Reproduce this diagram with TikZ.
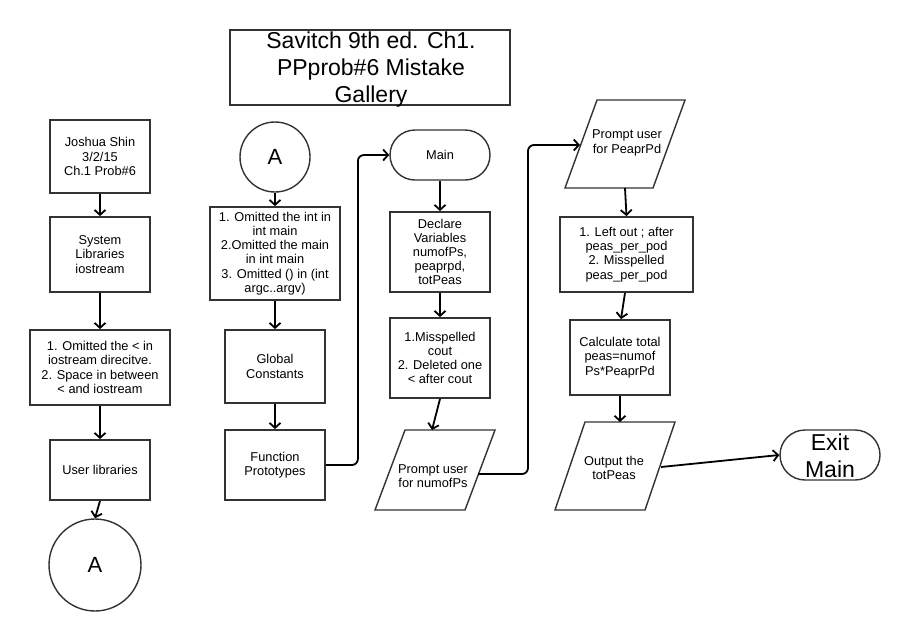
\documentclass[tikz,border=0pt]{standalone}
\usepackage{fontspec}
\setmainfont{Liberation Sans}
\usetikzlibrary{arrows.meta}
\begin{document}
\begin{tikzpicture}[x=1pt,y=-1pt,
  box/.style={draw=black!80, line width=1.8pt, align=center, inner sep=0pt,
    font=\fontsize{12.8}{14.2}\selectfont},
  txt/.style={align=center, inner sep=0pt, font=\fontsize{12.8}{14.2}\selectfont},
  bigtxt/.style={align=center, inner sep=0pt, font=\fontsize{23}{27}\selectfont},
  conn/.style={draw=black!80, line width=1.6pt},
  term/.style={draw=black!80, line width=1.4pt, rounded corners=25pt, inner sep=0pt,
    minimum width=100pt, minimum height=50pt},
  para/.style={draw=black!80, line width=1.4pt, line join=miter},
  arr/.style={draw=black, line width=1.8pt, -{Straight Barb[length=5pt,width=11pt]}},
  plain/.style={draw=black, line width=1.8pt}
]
\useasboundingbox (0,0) rectangle (906,630);
\fill[white] (0,0) rectangle (906,630);

% title
\node[draw=black!80, line width=1.6pt, minimum width=280pt, minimum height=75pt, inner sep=0pt] (title) at (370,67.5) {};
\node[bigtxt] (titletxt) at (371,70) {Savitch 9th ed. Ch1.\\PPprob\#6 Mistake\\Gallery};

% column 1
\node[box, minimum width=100pt, minimum height=73pt] (j1) at (100,156.5) {Joshua Shin\\3/2/15\\Ch.1 Prob\#6};
\node[box, minimum width=100pt, minimum height=75pt] (sys) at (100,254.5) {System\\Libraries\\iostream};
\node[box, minimum width=140pt, minimum height=75pt] (om1) at (100,367.5) {1. Omitted the < in\\iostream direcitve.\\2. Space in between\\< and iostream};
\node[box, minimum width=100pt, minimum height=60pt] (usr) at (100,470) {User libraries};
\node[circle, draw=black!80, line width=1.4pt, minimum size=92pt, inner sep=0pt, font=\fontsize{22}{26}\selectfont] (ca1) at (95,565) {A};

% column 2
\node[circle, draw=black!80, line width=1.4pt, minimum size=70pt, inner sep=0pt, font=\fontsize{22}{26}\selectfont] (ca2) at (275,157) {A};
\node[box, minimum width=130pt, minimum height=93pt] (om2) at (275,253.5) {1. Omitted the int in\\int main\\2.Omitted the main\\in int main\\3. Omitted () in (int\\argc..argv)};
\node[box, minimum width=100pt, minimum height=73pt] (glob) at (275,366.5) {Global\\Constants};
\node[box, minimum width=100pt, minimum height=70pt] (func) at (275,465) {Function\\Prototypes};

% column 3
\node[term, font=\fontsize{12.8}{14.2}\selectfont] (main) at (440,155) {Main};
\node[box, minimum width=100pt, minimum height=80pt] (decl) at (440,252) {Declare\\Variables\\numofPs,\\peaprpd,\\totPeas};
\node[box, minimum width=100pt, minimum height=80pt] (miss) at (440,358) {1.Misspelled\\cout\\2. Deleted one\\< after cout};
\draw[para] (405,430) -- (495,430) -- (465,510) -- (375,510) -- cycle;
\node[txt] (p1) at (433,476) {Prompt user\\for numofPs};
\coordinate (p1t) at (432,430);
\coordinate (p1r) at (478,474);

% column 4
\draw[para] (597,100) -- (685,100) -- (653,188) -- (565,188) -- cycle;
\node[txt] (p2) at (627,143) {Prompt user\\for PeaprPd};
\coordinate (p2l) at (580,145);
\coordinate (p2b) at (625,188);
\node[box, minimum width=133pt, minimum height=75pt] (lo) at (626.5,254.5) {1. Left out ; after\\peas\_per\_pod\\ 2. Misspelled\\peas\_per\_pod};
\node[box, minimum width=100pt, minimum height=75pt] (calc) at (620,357.5) {Calculate total\\peas=numof\\Ps*PeaprPd};
\draw[para] (585,422) -- (675,422) -- (645,510) -- (555,510) -- cycle;
\node[txt] (out) at (614,468) {Output the\\totPeas};
\coordinate (outt) at (620,422);
\coordinate (outr) at (661,467);
\node[term] (exit) at (830,455) {};
\node[bigtxt] (exittxt) at (830,456) {Exit\\Main};

% connectors
\draw[arr] (j1.south) -- (sys.north);
\draw[arr] (sys.south) -- (om1.north);
\draw[arr] (om1.south) -- (usr.north);
\draw[arr] (usr.south) -- (ca1.north);
\draw[arr] (ca2.south) -- (om2.north);
\draw[arr] (om2.south) -- (glob.north);
\draw[arr] (glob.south) -- (func.north);
\draw[arr, rounded corners=6pt] (func.east) -- ++(32,0) |- (main.west);
\draw[arr] (main.south) -- (decl.north);
\draw[arr] (decl.south) -- (miss.north);
\draw[arr] (miss.south) -- (p1t);
\draw[arr, rounded corners=6pt] (p1r) -- (528,474) |- (p2l);
\draw[arr] (p2b) -- (lo.north);
\draw[arr] ([xshift=-1.5pt]lo.south) -- ([xshift=1pt]calc.north);
\draw[arr] (calc.south) -- (outt);
\draw[arr] (outr) -- (exit.west);
\end{tikzpicture}
\end{document}
